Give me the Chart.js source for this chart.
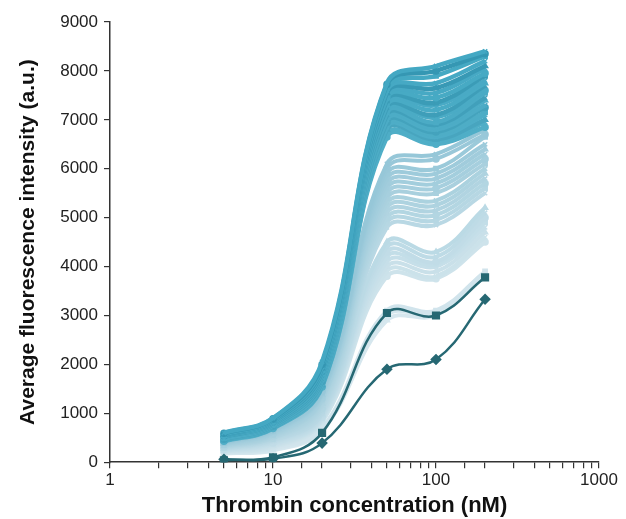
<!DOCTYPE html>
<html>
<head>
<meta charset="utf-8">
<script src="https://cdn.jsdelivr.net/npm/chart.js@4"></script>
<style>
  html, body { margin: 0; padding: 0; background: #fff; }
  #wrap { width: 626px; height: 519px; }
</style>
</head>
<body>
<div id="wrap"><canvas id="chart"></canvas></div>
<script>
// thrombin concentrations (nM)
const concentrations = [5, 10, 20, 50, 100, 200];
const xTickLabels = [1, 10, 100, 1000];

// high-response runs (teal), top to bottom
const tealRuns = [
    [600, 900, 2050, 7750, 8100, 8400],
    [590, 890, 2000, 7720, 8000, 8350],
    [580, 880, 1980, 7650, 7900, 8300],
    [570, 870, 1950, 7600, 7750, 8200],
    [560, 860, 1920, 7550, 7650, 8100],
    [570, 850, 1900, 7500, 7550, 8050],
    [550, 840, 1880, 7450, 7450, 7950],
    [540, 830, 1850, 7400, 7350, 7900],
    [530, 820, 1820, 7350, 7300, 7800],
    [540, 810, 1800, 7300, 7200, 7750],
    [520, 800, 1780, 7250, 7100, 7700],
    [510, 790, 1760, 7200, 7050, 7600],
    [500, 780, 1740, 7150, 6950, 7550],
    [510, 770, 1720, 7100, 6900, 7450],
    [490, 760, 1700, 7050, 6850, 7400],
    [480, 750, 1680, 7000, 6800, 7300],
    [470, 740, 1650, 6950, 6750, 7250],
    [460, 730, 1620, 6900, 6700, 7150],
    [470, 720, 1600, 6850, 6650, 7100],
    [450, 710, 1580, 6800, 6600, 7000],
    [440, 700, 1560, 6700, 6550, 6950],
    [430, 690, 1540, 6650, 6500, 6850]
];

// lower-response runs (pale), top to bottom
const paleRuns = [
    [420, 680, 1500, 6100, 6300, 6800],
    [410, 660, 1450, 6000, 6200, 6700],
    [400, 650, 1420, 5900, 6000, 6650],
    [390, 640, 1400, 5800, 5900, 6500],
    [380, 620, 1380, 5700, 5800, 6400],
    [370, 600, 1350, 5600, 5700, 6300],
    [360, 580, 1300, 5500, 5600, 6200],
    [350, 560, 1280, 5400, 5500, 6100],
    [340, 540, 1250, 5300, 5350, 6000],
    [330, 520, 1200, 5200, 5250, 5900],
    [320, 500, 1150, 5100, 5150, 5800],
    [310, 490, 1100, 5000, 5050, 5700],
    [300, 470, 1050, 4900, 4950, 5600],
    [290, 450, 1000, 4800, 4850, 5500],
    [280, 440, 980, 4500, 4300, 5200],
    [270, 420, 950, 4400, 4200, 5100],
    [260, 400, 920, 4300, 4100, 5000],
    [250, 380, 900, 4200, 4050, 4900],
    [240, 360, 880, 4100, 4000, 4800],
    [230, 340, 860, 4000, 3900, 4700],
    [220, 320, 840, 3900, 3800, 4600],
    [210, 300, 820, 3800, 3750, 4500],
    [200, 280, 700, 3100, 3100, 3900],
    [190, 260, 680, 3000, 3050, 3850],
    [180, 240, 650, 2900, 3000, 3800]
];

// control runs (dark)
const squareRun = [40, 100, 600, 3050, 3000, 3780];
const diamondRun = [60, 70, 390, 1900, 2100, 3330];

const markerStyles = ['crossRot', 'circle', 'rect', 'crossRot', 'triangle'];

function mix(a, b, t) {
    const r = Math.round(a[0] + (b[0] - a[0]) * t);
    const g = Math.round(a[1] + (b[1] - a[1]) * t);
    const bl = Math.round(a[2] + (b[2] - a[2]) * t);
    return `rgb(${r},${g},${bl})`;
}

function toPoints(values) {
    return values.map((v, i) => ({ x: concentrations[i], y: v }));
}

function runDataset(values, color, width, i, order) {
    return {
        data: toPoints(values),
        borderColor: color,
        backgroundColor: color,
        borderWidth: width,
        pointStyle: markerStyles[i % markerStyles.length],
        pointRadius: 3,
        pointBorderWidth: 1.5,
        tension: 0.4,
        order: order
    };
}

const datasets = [];

// dark controls sit on top (lowest order is drawn last)
datasets.push({
    data: toPoints(squareRun),
    borderColor: '#266873',
    backgroundColor: '#266873',
    borderWidth: 2.5,
    pointStyle: 'rect',
    pointRadius: 4,
    tension: 0.4,
    order: 0
});
datasets.push({
    data: toPoints(diamondRun),
    borderColor: '#266873',
    backgroundColor: '#266873',
    borderWidth: 2.5,
    pointStyle: 'rectRot',
    pointRadius: 4,
    tension: 0.4,
    order: 0
});

tealRuns.forEach((run, i) => {
    const t = i / (tealRuns.length - 1);
    const shade = i % 3 === 1 ? [52, 150, 178] : [68, 168, 195];
    datasets.push(runDataset(run, mix(shade, [88, 178, 202], t * 0.6), 4.5, i, 1));
});

paleRuns.forEach((run, i) => {
    const t = i / (paleRuns.length - 1);
    datasets.push(runDataset(run, mix([150, 199, 216], [214, 231, 238], t), 4, i, 2));
});

const axisColor = '#333';
const tickFont = { family: 'Liberation Sans, Arial, sans-serif', size: 17 };

new Chart(document.getElementById('chart'), {
    type: 'line',
    data: { datasets },
    options: {
        responsive: true,
        maintainAspectRatio: false,
        animation: false,
        layout: { padding: { top: 22, right: 27, left: 12, bottom: 0 } },
        plugins: {
            legend: { display: false },
            tooltip: { enabled: false }
        },
        scales: {
            x: {
                type: 'logarithmic',
                min: 1,
                max: 1000,
                border: { display: true, color: axisColor, width: 1.5 },
                grid: { drawOnChartArea: false, drawTicks: true, tickLength: 6, color: axisColor, lineWidth: 1.2 },
                ticks: {
                    autoSkip: false,
                    maxRotation: 0,
                    color: '#222',
                    font: tickFont,
                    padding: 2,
                    callback: (v) => xTickLabels.includes(v) ? String(v) : ''
                },
                title: {
                    display: true,
                    text: 'Thrombin concentration (nM)',
                    color: '#111',
                    font: { family: 'Liberation Sans, Arial, sans-serif', size: 22, weight: 'bold' },
                    padding: { top: 0, bottom: 0 }
                }
            },
            y: {
                min: 0,
                max: 9000,
                border: { display: true, color: axisColor, width: 1.5 },
                grid: { drawOnChartArea: false, drawTicks: true, tickLength: 6, color: axisColor, lineWidth: 1.2 },
                ticks: {
                    stepSize: 1000,
                    color: '#222',
                    font: tickFont,
                    padding: 6,
                    callback: (v) => String(v)
                },
                title: {
                    display: true,
                    text: 'Average fluorescence intensity (a.u.)',
                    color: '#111',
                    font: { family: 'Liberation Sans, Arial, sans-serif', size: 21, weight: 'bold' },
                    padding: { bottom: 13 }
                }
            }
        }
    }
});
</script>
</body>
</html>
